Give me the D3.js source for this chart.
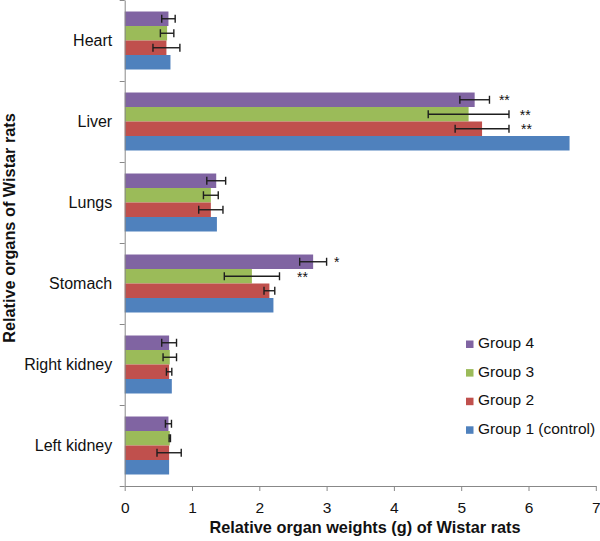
<!DOCTYPE html>
<html><head><meta charset="utf-8">
<script src="https://cdn.jsdelivr.net/npm/d3@7"></script>
<style>body{margin:0;background:#fff}svg{display:block;font-family:"Liberation Sans",Arial,sans-serif}</style>
</head><body><div id="chart"></div>
<script>
const categories = ["Heart","Liver","Lungs","Stomach","Right kidney","Left kidney"];
const groups = ["Group 4","Group 3","Group 2","Group 1 (control)"];
const colors = ["#8064A2","#9BBB59","#C0504D","#4F81BD"];
// values per group, in category order
const group4 = [0.65, 5.20, 1.36, 2.80, 0.66, 0.65];
const group3 = [0.63, 5.11, 1.28, 1.89, 0.67, 0.67];
const group2 = [0.62, 5.31, 1.28, 2.15, 0.66, 0.66];
const group1 = [0.68, 6.61, 1.37, 2.21, 0.70, 0.66];
// error (± SD)
const err4 = [0.10, 0.22, 0.14, 0.20, 0.11, 0.045];
const err3 = [0.10, 0.60, 0.11, 0.41, 0.10, 0.01];
const err2 = [0.20, 0.40, 0.18, 0.08, 0.04, 0.18];
const err1 = [null, null, null, null, null, null];
// significance marks: category, group, label, label x (in axis units)
const sigCat = ["Liver","Liver","Liver","Stomach","Stomach"];
const sigGroup = ["Group 4","Group 3","Group 2","Group 4","Group 3"];
const sigLabel = ["**","**","**","*","**"];
const sigX = [5.56, 5.87, 5.89, 3.11, 2.56];
const xTicks = [0,1,2,3,4,5,6,7];

const values = [group4, group3, group2, group1];
const errs = [err4, err3, err2, err1];
const data = [];
categories.forEach((c, i) => groups.forEach((g, j) => data.push({cat: c, group: g, value: values[j][i], err: errs[j][i], color: colors[j]})));

const W = 600, H = 541;
const m = {left: 124.7, top: 0, right: 4.2, bottom: 55};
const svg = d3.select("#chart").append("svg").attr("width", W).attr("height", H);
const g = svg.append("g").attr("transform", `translate(${m.left},${m.top})`);
const iw = W - m.left - m.right, ih = 486;

const x = d3.scaleLinear().domain([0, 7]).range([0, iw]);
const y0 = d3.scaleBand().domain(categories).range([0, ih]).paddingInner(0.284).paddingOuter(0.142);
const y1 = d3.scaleBand().domain(groups).range([0, y0.bandwidth()]);

const axisColor = "#888";

// bars
g.selectAll("rect.bar").data(data).join("rect")
  .attr("class", "bar")
  .attr("x", x(0))
  .attr("y", d => y0(d.cat) + y1(d.group))
  .attr("width", d => x(d.value) - x(0))
  .attr("height", y1.bandwidth())
  .attr("fill", d => d.color);

// error bars
const eb = g.selectAll("g.err").data(data.filter(d => d.err != null)).join("g").attr("class", "err")
  .attr("stroke", "#1e1e1e").attr("stroke-width", 1.4);
eb.append("line")
  .attr("x1", d => x(d.value - d.err)).attr("x2", d => x(d.value + d.err))
  .attr("y1", d => y0(d.cat) + y1(d.group) + y1.bandwidth() / 2)
  .attr("y2", d => y0(d.cat) + y1(d.group) + y1.bandwidth() / 2);
[-1, 1].forEach(s => {
  eb.append("line")
    .attr("x1", d => x(d.value + s * d.err)).attr("x2", d => x(d.value + s * d.err))
    .attr("y1", d => y0(d.cat) + y1(d.group) + y1.bandwidth() / 2 - 4)
    .attr("y2", d => y0(d.cat) + y1(d.group) + y1.bandwidth() / 2 + 4);
});

// significance marks
g.selectAll("text.sig").data(sigLabel).join("text")
  .attr("class", "sig")
  .attr("x", (d, i) => x(sigX[i]))
  .attr("y", (d, i) => y0(sigCat[i]) + y1(sigGroup[i]) + y1.bandwidth() / 2 + 5.5)
  .attr("font-size", 14).attr("fill", "#111")
  .text(d => d);

// x axis
const xa = g.append("g").attr("transform", `translate(0,${ih})`)
  .call(d3.axisBottom(x).tickValues(xTicks).tickFormat(d3.format("d")).tickSize(5).tickSizeOuter(0).tickPadding(11));
xa.select(".domain").attr("stroke", axisColor);
xa.selectAll(".tick line").attr("stroke", axisColor);
xa.selectAll(".tick text").attr("font-size", 15.5).attr("fill", "#111").attr("font-family", "Liberation Sans, Arial, sans-serif");

// y axis
const ya = g.append("g")
  .call(d3.axisLeft(y0).tickSize(0).tickPadding(12.5).tickSizeOuter(0));
ya.select(".domain").attr("stroke", axisColor);
ya.selectAll(".tick text").attr("font-size", 16).attr("fill", "#111").attr("font-family", "Liberation Sans, Arial, sans-serif");
const bounds = categories.map(c => y0(c) - y0.step() * y0.paddingInner() / 2).concat([ih]);
g.selectAll("line.bt").data(bounds).join("line").attr("class", "bt")
  .attr("x1", -5).attr("x2", 0).attr("y1", d => d + 0.5).attr("y2", d => d + 0.5)
  .attr("stroke", axisColor);

// axis titles
svg.append("text").attr("x", 365).attr("y", 533).attr("text-anchor", "middle")
  .attr("font-size", 16.3).attr("font-weight", "bold").attr("fill", "#111")
  .text("Relative organ weights (g) of Wistar rats");
svg.append("text").attr("transform", "translate(15,228) rotate(-90)").attr("text-anchor", "middle")
  .attr("font-size", 16.3).attr("font-weight", "bold").attr("fill", "#111")
  .text("Relative organs of Wistar rats");

// legend
const lg = svg.append("g").attr("transform", "translate(466,0)");
const li = lg.selectAll("g").data(groups).join("g")
  .attr("transform", (d, i) => `translate(0,${348 + i * 28.6})`);
li.append("rect").attr("x", 0).attr("y", -7.5).attr("width", 7.5).attr("height", 7.5)
  .attr("fill", (d, i) => colors[i]);
li.append("text").attr("x", 12).attr("y", 0).attr("font-size", 15.5).attr("fill", "#111").text(d => d);
</script></body></html>
